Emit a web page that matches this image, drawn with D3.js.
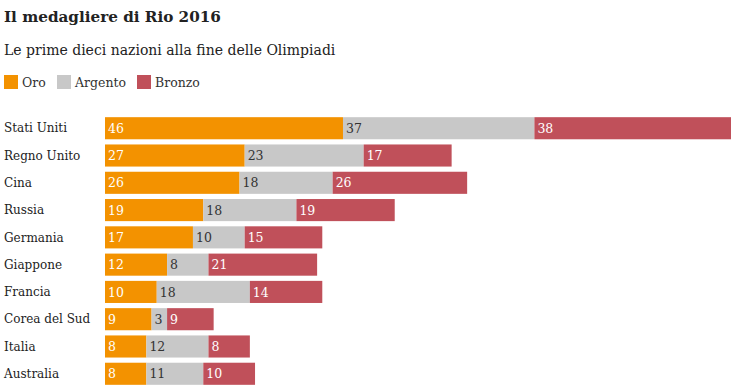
<!DOCTYPE html>
<html><head><meta charset="utf-8">
<script src="https://cdn.jsdelivr.net/npm/d3@7"></script>
<style>body{margin:0;background:#fff}svg{display:block}</style>
</head><body>
<script>
const countries = ["Stati Uniti","Regno Unito","Cina","Russia","Germania","Giappone","Francia","Corea del Sud","Italia","Australia"];
const oro = [46,27,26,19,17,12,10,9,8,8];
const argento = [37,23,18,18,10,8,18,3,12,11];
const bronzo = [38,17,26,19,15,21,14,9,8,10];
const seriesNames = ["Oro","Argento","Bronzo"];
const colors = ["#f39200","#c8c8c8","#c0505a"];
const labelColors = ["#fff","#333","#fff"];

const W=740,H=389;
const svg=d3.select("body").append("svg").attr("width",W).attr("height",H);
const font="'DejaVu Serif', serif";

svg.append("text").attr("x",4).attr("y",22).attr("font-family",font).attr("font-weight","bold")
  .attr("font-size",15.2).attr("fill","#222").text("Il medagliere di Rio 2016");
svg.append("text").attr("x",4).attr("y",55).attr("font-family",font)
  .attr("font-size",14).attr("fill","#222").text("Le prime dieci nazioni alla fine delle Olimpiadi");

const legX=[4,57,137];
seriesNames.forEach((n,i)=>{
  svg.append("rect").attr("x",legX[i]).attr("y",75).attr("width",14).attr("height",14).attr("fill",colors[i]);
  svg.append("text").attr("x",legX[i]+18).attr("y",86.5).attr("font-family",font).attr("font-size",12.5)
    .attr("fill","#333").text(n);
});

const data=countries.map((c,i)=>({country:c,Oro:oro[i],Argento:argento[i],Bronzo:bronzo[i]}));
const stack=d3.stack().keys(seriesNames)(data);
const x=d3.scaleLinear().domain([0,121]).range([105,731]);
const y=d3.scaleBand().domain(countries).range([115,387]).paddingInner(0.19).paddingOuter(0.08);

svg.append("g").selectAll("text").data(countries).join("text")
  .attr("x",4).attr("y",d=>y(d)+y.bandwidth()/2).attr("dy","0.35em")
  .attr("font-family",font).attr("font-size",12).attr("fill","#222").text(d=>d);

stack.forEach((s,si)=>{
  const g=svg.append("g");
  g.selectAll("rect").data(s).join("rect")
    .attr("x",d=>x(d[0])).attr("y",d=>y(d.data.country))
    .attr("width",d=>x(d[1])-x(d[0])).attr("height",y.bandwidth()).attr("fill",colors[si]);
  g.selectAll("text").data(s).join("text")
    .attr("x",d=>x(d[0])+3).attr("y",d=>y(d.data.country)+y.bandwidth()/2).attr("dy","0.37em")
    .attr("font-family",font).attr("font-size",12.5).attr("fill",labelColors[si])
    .text(d=>d[1]-d[0]);
});
</script>
</body></html>
